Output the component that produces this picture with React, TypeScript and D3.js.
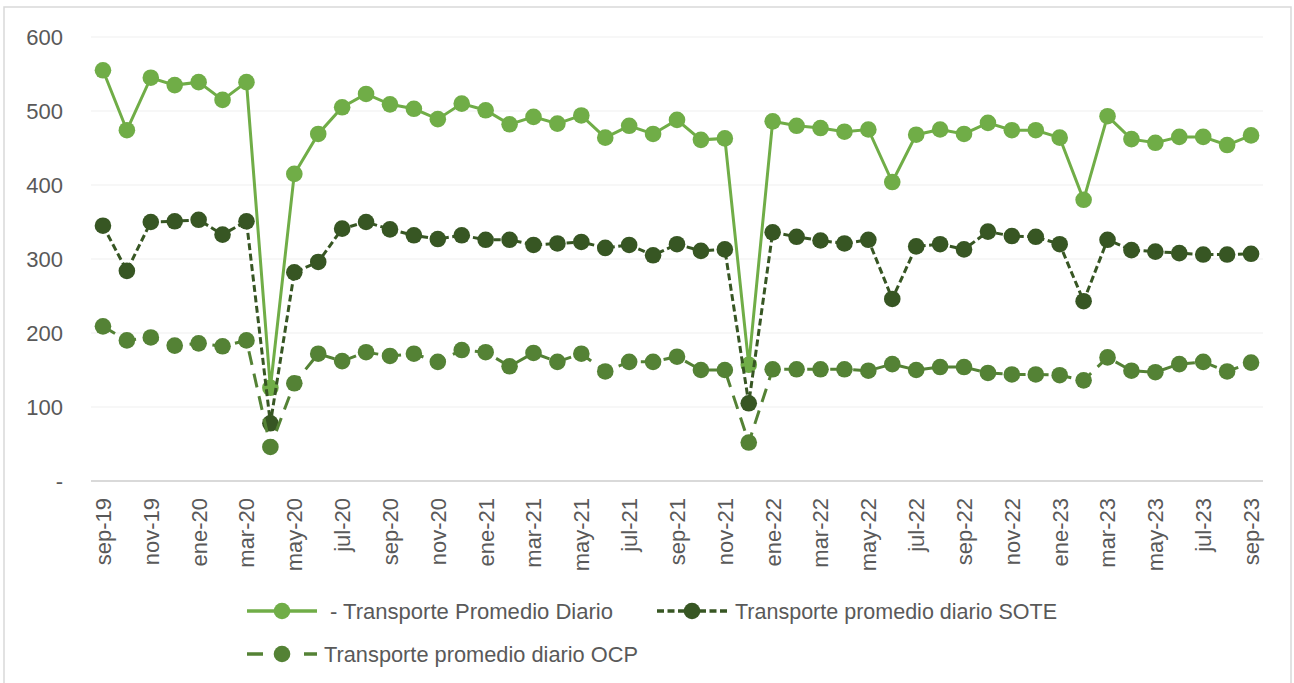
import React from 'react';
import * as d3 from 'd3';

// months sep-19 .. sep-23
const months = [
  'sep-19', 'oct-19', 'nov-19', 'dic-19', 'ene-20', 'feb-20', 'mar-20', 'abr-20', 'may-20', 'jun-20', 'jul-20', 'ago-20',
  'sep-20', 'oct-20', 'nov-20', 'dic-20', 'ene-21', 'feb-21', 'mar-21', 'abr-21', 'may-21', 'jun-21', 'jul-21', 'ago-21',
  'sep-21', 'oct-21', 'nov-21', 'dic-21', 'ene-22', 'feb-22', 'mar-22', 'abr-22', 'may-22', 'jun-22', 'jul-22', 'ago-22',
  'sep-22', 'oct-22', 'nov-22', 'dic-22', 'ene-23', 'feb-23', 'mar-23', 'abr-23', 'may-23', 'jun-23', 'jul-23', 'ago-23',
  'sep-23',
];

const totalDiario = [
  555, 474, 545, 535, 539, 515, 539, 126, 415, 469, 505, 523,
  509, 503, 489, 510, 501, 482, 492, 483, 494, 464, 480, 469,
  488, 461, 463, 157, 486, 480, 477, 472, 475, 404, 468, 475,
  469, 484, 474, 474, 464, 380, 493, 462, 457, 465, 465, 454,
  467,
];

const soteDiario = [
  345, 284, 350, 351, 353, 333, 351, 78, 282, 296, 341, 350,
  340, 332, 327, 332, 326, 326, 319, 321, 323, 315, 319, 305,
  320, 311, 313, 105, 336, 330, 325, 321, 326, 246, 317, 320,
  313, 337, 331, 330, 320, 243, 326, 312, 310, 308, 306, 306,
  307,
];

const ocpDiario = [
  209, 190, 194, 183, 186, 182, 190, 46, 132, 172, 162, 174,
  169, 172, 161, 177, 174, 155, 173, 161, 172, 148, 161, 161,
  168, 150, 150, 52, 151, 151, 151, 151, 149, 158, 150, 154,
  154, 146, 144, 144, 143, 136, 167, 149, 147, 158, 161, 148,
  160,
];

const yTicks = [0, 100, 200, 300, 400, 500, 600];

const series = [
  { name: '- Transporte Promedio Diario', values: totalDiario, color: '#70AD47', dash: null, legendDash: null },
  { name: 'Transporte promedio diario SOTE', values: soteDiario, color: '#375623', dash: '7 3.5', legendDash: '7 3.5' },
  { name: 'Transporte promedio diario OCP', values: ocpDiario, color: '#548235', dash: '14 9', legendDash: '16 41 13' },
];

const txt = '#595959';
const font = '"Liberation Sans", Arial, sans-serif';

export default function App() {
  const x = d3.scalePoint<string>().domain(months).range([91, 1263]).padding(0.5);
  const y = d3.scaleLinear().domain([0, 600]).range([481, 37]);

  const line = d3.line<number>()
    .x((_, i) => x(months[i]) as number)
    .y((d) => y(d));

  // legend entries
  const legend = [
    { s: series[0], x0: 247, tx: 330, ly: 611, w: 283 },
    { s: series[1], x0: 657, tx: 735, ly: 611, w: 322 },
    { s: series[2], x0: 247, tx: 324, ly: 654, w: 314 },
  ];

  return (
    <svg width={1294} height={683} style={{ position: 'absolute', left: 0, top: 0, background: '#fff' }}>
      <rect x={4} y={7} width={1287} height={700} fill="#fff" stroke="#d9d9d9" strokeWidth={1.5} />

      {yTicks.filter((t) => t > 0).map((t) => (
        <line key={t} x1={91} x2={1263} y1={y(t)} y2={y(t)} stroke="#efefef" strokeWidth={1} />
      ))}
      <line x1={91} x2={1263} y1={y(0)} y2={y(0)} stroke="#d9d9d9" strokeWidth={2} />

      {yTicks.map((t) => (
        <text key={t} x={63} y={y(t)} dy="0.36em" textAnchor="end" fill={txt}
          style={{ fontFamily: font, fontSize: 22 }}>
          {t === 0 ? '-' : t}
        </text>
      ))}

      {months.map((m, i) => i % 2 === 0 ? (
        <text key={m} transform={`translate(${(x(m) as number)},498) rotate(-90)`} dy="0.36em" textAnchor="end" fill={txt}
          style={{ fontFamily: font, fontSize: 22 }}>
          {m}
        </text>
      ) : null)}

      {series.map((s) => (
        <g key={s.name}>
          <path d={line(s.values) || ''} fill="none" stroke={s.color} strokeWidth={3}
            strokeDasharray={s.dash || undefined} />
          {s.values.map((v, i) => (
            <circle key={i} cx={x(months[i])} cy={y(v)} r={8.3} fill={s.color} />
          ))}
        </g>
      ))}

      {legend.map(({ s, x0, tx, ly, w }) => (
        <g key={s.name}>
          <line x1={x0} x2={x0 + 70} y1={ly} y2={ly} stroke={s.color} strokeWidth={3.5}
            strokeDasharray={s.legendDash || undefined} />
          <circle cx={x0 + 35} cy={ly} r={8.3} fill={s.color} />
          <text x={tx} y={ly} dy="0.36em" fill={txt} textLength={w} lengthAdjust="spacingAndGlyphs"
            style={{ fontFamily: font, fontSize: 22 }}>
            {s.name}
          </text>
        </g>
      ))}
    </svg>
  );
}
